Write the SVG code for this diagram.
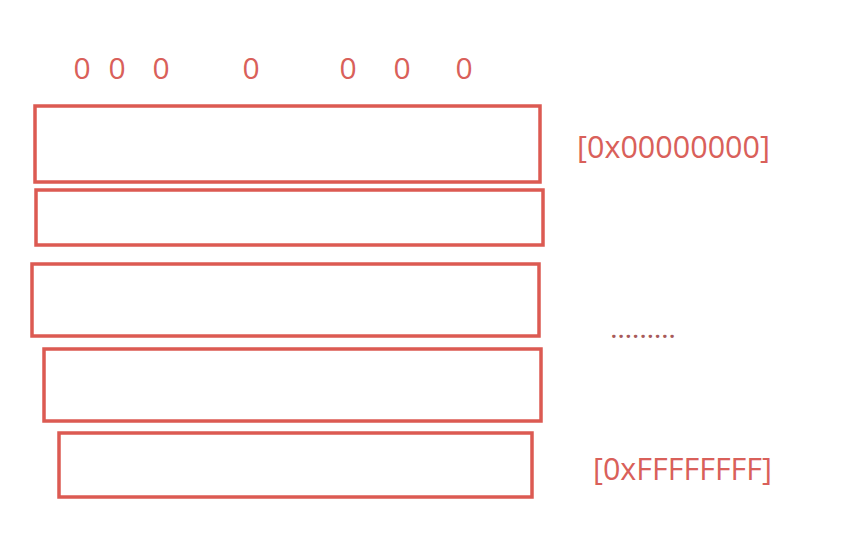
<svg xmlns="http://www.w3.org/2000/svg" width="842" height="544" viewBox="0 0 842 544">
<style>
.box{fill:#fff;stroke:#dc5a52;stroke-width:3.5}
.t{font-family:"Open Sans","Liberation Sans",sans-serif;fill:#d9605a}
.z{font-size:30px;text-anchor:middle}
.a{font-size:31px}
</style>
<rect width="842" height="544" fill="#fff"/>
<g id="bits">
<text class="t z" x="82" y="79">0</text>
<text class="t z" x="117" y="79">0</text>
<text class="t z" x="161" y="79">0</text>
<text class="t z" x="251" y="79">0</text>
<text class="t z" x="348" y="79">0</text>
<text class="t z" x="402" y="79">0</text>
<text class="t z" x="464" y="79">0</text>
</g>
<g id="row1"><rect class="box" x="35" y="106" width="505" height="76"/></g>
<g id="row2"><rect class="box" x="36" y="190" width="507" height="55"/></g>
<g id="row3"><rect class="box" x="32" y="264" width="507" height="72"/></g>
<g id="row4"><rect class="box" x="44" y="349" width="497" height="72"/></g>
<g id="row5"><rect class="box" x="59" y="433" width="473" height="64"/></g>
<g id="labels">
<text class="t a" x="577" y="158" textLength="193" lengthAdjust="spacingAndGlyphs">[0x00000000]</text>
<text class="t" x="611" y="338" font-size="20" font-weight="bold" textLength="64" lengthAdjust="spacing" style="fill:#a85a5a">.........</text>
<text class="t a" x="593" y="480" textLength="179" lengthAdjust="spacingAndGlyphs">[0xFFFFFFFF]</text>
</g>
</svg>
